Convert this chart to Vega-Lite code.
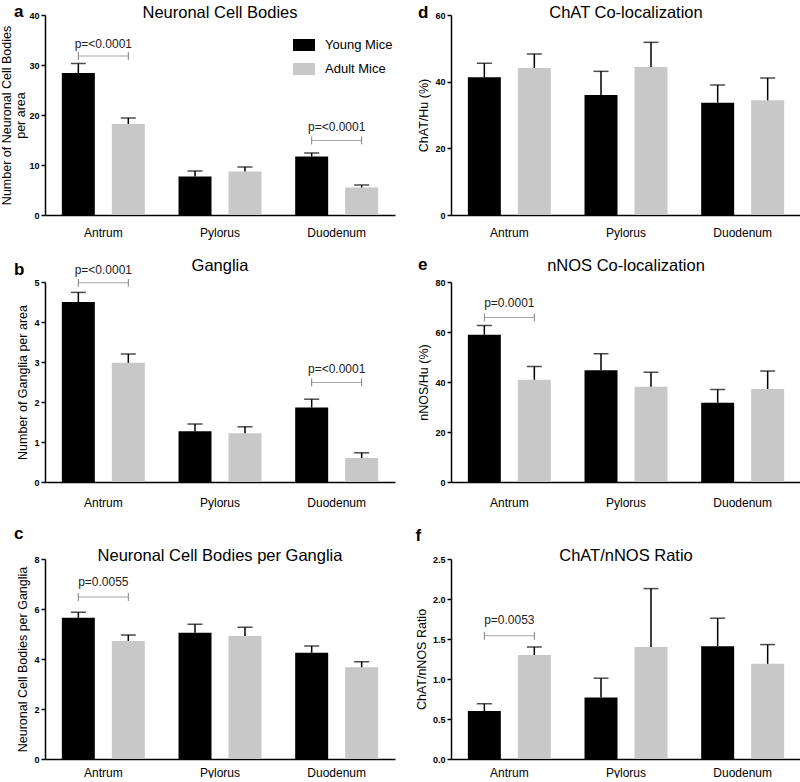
{
  "$schema": "https://vega.github.io/schema/vega-lite/v6.json",
  "padding": {"left": 0, "top": 2, "right": 2, "bottom": 0},
  "datasets": {
    "bars": [
      {"panel": "a", "region": "Antrum", "group": "Young Mice", "mean": 28.4, "hi": 30.3},
      {"panel": "a", "region": "Antrum", "group": "Adult Mice", "mean": 18.2, "hi": 19.4},
      {"panel": "a", "region": "Pylorus", "group": "Young Mice", "mean": 7.7, "hi": 8.8},
      {"panel": "a", "region": "Pylorus", "group": "Adult Mice", "mean": 8.7, "hi": 9.6},
      {"panel": "a", "region": "Duodenum", "group": "Young Mice", "mean": 11.7, "hi": 12.4},
      {"panel": "a", "region": "Duodenum", "group": "Adult Mice", "mean": 5.5, "hi": 6.0},
      {"panel": "d", "region": "Antrum", "group": "Young Mice", "mean": 41.3, "hi": 45.5},
      {"panel": "d", "region": "Antrum", "group": "Adult Mice", "mean": 44.1, "hi": 48.3},
      {"panel": "d", "region": "Pylorus", "group": "Young Mice", "mean": 36.0, "hi": 43.1},
      {"panel": "d", "region": "Pylorus", "group": "Adult Mice", "mean": 44.4, "hi": 51.8},
      {"panel": "d", "region": "Duodenum", "group": "Young Mice", "mean": 33.7, "hi": 39.0},
      {"panel": "d", "region": "Duodenum", "group": "Adult Mice", "mean": 34.4, "hi": 41.1},
      {"panel": "b", "region": "Antrum", "group": "Young Mice", "mean": 4.50, "hi": 4.74},
      {"panel": "b", "region": "Antrum", "group": "Adult Mice", "mean": 2.98, "hi": 3.20},
      {"panel": "b", "region": "Pylorus", "group": "Young Mice", "mean": 1.27, "hi": 1.45},
      {"panel": "b", "region": "Pylorus", "group": "Adult Mice", "mean": 1.22, "hi": 1.38},
      {"panel": "b", "region": "Duodenum", "group": "Young Mice", "mean": 1.86, "hi": 2.07},
      {"panel": "b", "region": "Duodenum", "group": "Adult Mice", "mean": 0.60, "hi": 0.73},
      {"panel": "e", "region": "Antrum", "group": "Young Mice", "mean": 58.9, "hi": 62.6},
      {"panel": "e", "region": "Antrum", "group": "Adult Mice", "mean": 40.9, "hi": 46.2},
      {"panel": "e", "region": "Pylorus", "group": "Young Mice", "mean": 44.7, "hi": 51.3},
      {"panel": "e", "region": "Pylorus", "group": "Adult Mice", "mean": 38.1, "hi": 43.9},
      {"panel": "e", "region": "Duodenum", "group": "Young Mice", "mean": 31.7, "hi": 37.0},
      {"panel": "e", "region": "Duodenum", "group": "Adult Mice", "mean": 37.2, "hi": 44.4},
      {"panel": "c", "region": "Antrum", "group": "Young Mice", "mean": 5.65, "hi": 5.87},
      {"panel": "c", "region": "Antrum", "group": "Adult Mice", "mean": 4.72, "hi": 4.96},
      {"panel": "c", "region": "Pylorus", "group": "Young Mice", "mean": 5.05, "hi": 5.39},
      {"panel": "c", "region": "Pylorus", "group": "Adult Mice", "mean": 4.92, "hi": 5.27},
      {"panel": "c", "region": "Duodenum", "group": "Young Mice", "mean": 4.25, "hi": 4.52},
      {"panel": "c", "region": "Duodenum", "group": "Adult Mice", "mean": 3.67, "hi": 3.89},
      {"panel": "f", "region": "Antrum", "group": "Young Mice", "mean": 0.60, "hi": 0.69},
      {"panel": "f", "region": "Antrum", "group": "Adult Mice", "mean": 1.30, "hi": 1.40},
      {"panel": "f", "region": "Pylorus", "group": "Young Mice", "mean": 0.77, "hi": 1.01},
      {"panel": "f", "region": "Pylorus", "group": "Adult Mice", "mean": 1.40, "hi": 2.13},
      {"panel": "f", "region": "Duodenum", "group": "Young Mice", "mean": 1.41, "hi": 1.76},
      {"panel": "f", "region": "Duodenum", "group": "Adult Mice", "mean": 1.19, "hi": 1.43}
    ],
    "brackets": [
      {"panel": "a", "region": "Antrum", "group": "Young Mice", "y": 31.8, "ty": 34.3, "label": "p=<0.0001"},
      {"panel": "a", "region": "Antrum", "group": "Adult Mice", "y": 31.8, "ty": 34.3, "label": "p=<0.0001"},
      {"panel": "a", "region": "Duodenum", "group": "Young Mice", "y": 14.9, "ty": 17.6, "label": "p=<0.0001"},
      {"panel": "a", "region": "Duodenum", "group": "Adult Mice", "y": 14.9, "ty": 17.6, "label": "p=<0.0001"},
      {"panel": "b", "region": "Antrum", "group": "Young Mice", "y": 4.98, "ty": 5.29, "label": "p=<0.0001"},
      {"panel": "b", "region": "Antrum", "group": "Adult Mice", "y": 4.98, "ty": 5.29, "label": "p=<0.0001"},
      {"panel": "b", "region": "Duodenum", "group": "Young Mice", "y": 2.49, "ty": 2.83, "label": "p=<0.0001"},
      {"panel": "b", "region": "Duodenum", "group": "Adult Mice", "y": 2.49, "ty": 2.83, "label": "p=<0.0001"},
      {"panel": "e", "region": "Antrum", "group": "Young Mice", "y": 65.8, "ty": 71.5, "label": "p=0.0001"},
      {"panel": "e", "region": "Antrum", "group": "Adult Mice", "y": 65.8, "ty": 71.5, "label": "p=0.0001"},
      {"panel": "c", "region": "Antrum", "group": "Young Mice", "y": 6.48, "ty": 7.07, "label": "p=0.0055"},
      {"panel": "c", "region": "Antrum", "group": "Adult Mice", "y": 6.48, "ty": 7.07, "label": "p=0.0055"},
      {"panel": "f", "region": "Antrum", "group": "Young Mice", "y": 1.54, "ty": 1.74, "label": "p=0.0053"},
      {"panel": "f", "region": "Antrum", "group": "Adult Mice", "y": 1.54, "ty": 1.74, "label": "p=0.0053"}
    ]
  },
  "columns": 2,
  "align": "each",
  "spacing": {"row": 16, "column": 20},
  "resolve": {"scale": {"x": "independent", "y": "independent", "color": "independent"}, "legend": {"color": "independent"}},
  "concat": [
    {
      "title": {"text": "a", "anchor": "start", "frame": "bounds", "fontSize": 17, "fontWeight": "bold", "offset": -16, "dx": 13},
      "resolve": {"scale": {"color": "independent"}, "legend": {"color": "independent"}},
      "vconcat": [{
        "width": 350, "height": 200,
        "title": {"text": "Neuronal Cell Bodies", "offset": -10},
        "layer": [
          {"data": {"name": "bars"}, "transform": [{"filter": "datum.panel === 'a'"}],
           "mark": {"type": "bar"},
           "encoding": {
             "x": {"field": "region", "type": "nominal", "sort": ["Antrum", "Pylorus", "Duodenum"], "scale": {"paddingInner": 0, "paddingOuter": 0}, "title": null, "axis": {"labelPadding": 12.5}},
             "xOffset": {"field": "group", "type": "nominal", "sort": ["Young Mice", "Adult Mice"], "scale": {"paddingInner": 0.34, "paddingOuter": 0.337}},
             "y": {"field": "mean", "type": "quantitative", "stack": null, "scale": {"domain": [0, 40], "nice": false}, "axis": {"values": [0, 10, 20, 30, 40], "tickCount": 20, "format": "d", "title": ["Number of Neuronal Cell Bodies", "per area"], "titlePadding": 1, "titleLineHeight": 14}},
             "color": {"field": "group", "type": "nominal", "scale": {"domain": ["Young Mice", "Adult Mice"], "range": ["#000000", "#c8c8c8"]},
               "legend": {"orient": "none", "legendX": 248, "legendY": 19, "title": null, "padding": 0, "symbolType": "M-1,-0.545H1V0.545H-1Z", "symbolSize": 484, "symbolStrokeWidth": 0, "labelFontSize": 13, "labelOffset": 10, "rowPadding": 6, "labelColor": "black"}}
           }},
          {"data": {"name": "bars"}, "transform": [{"filter": "datum.panel === 'a'"}],
           "mark": {"type": "rule", "color": "black", "strokeWidth": 1.5},
           "encoding": {
             "x": {"field": "region", "type": "nominal", "sort": ["Antrum", "Pylorus", "Duodenum"]},
             "xOffset": {"field": "group", "type": "nominal", "sort": ["Young Mice", "Adult Mice"]},
             "y": {"field": "mean", "type": "quantitative"}, "y2": {"field": "hi"}
           }},
          {"data": {"name": "bars"}, "transform": [{"filter": "datum.panel === 'a'"}],
           "mark": {"type": "tick", "color": "black", "size": 15, "thickness": 1.5},
           "encoding": {
             "x": {"field": "region", "type": "nominal", "sort": ["Antrum", "Pylorus", "Duodenum"]},
             "xOffset": {"field": "group", "type": "nominal", "sort": ["Young Mice", "Adult Mice"]},
             "y": {"field": "hi", "type": "quantitative"}
           }},
          {"data": {"name": "brackets"}, "transform": [{"filter": "datum.panel === 'a' && datum.group === 'Young Mice'"}],
           "mark": {"type": "tick", "color": "#808080", "size": 50, "thickness": 1},
           "encoding": {
             "x": {"field": "region", "type": "nominal", "sort": ["Antrum", "Pylorus", "Duodenum"]},
             "y": {"field": "y", "type": "quantitative"}
           }},
          {"data": {"name": "brackets"}, "transform": [{"filter": "datum.panel === 'a'"}],
           "mark": {"type": "rule", "color": "#808080", "strokeWidth": 1, "yOffset": -4, "y2Offset": 4},
           "encoding": {
             "x": {"field": "region", "type": "nominal", "sort": ["Antrum", "Pylorus", "Duodenum"]},
             "xOffset": {"field": "group", "type": "nominal", "sort": ["Young Mice", "Adult Mice"]},
             "y": {"field": "y", "type": "quantitative"}, "y2": {"field": "y"}
           }},
          {"data": {"name": "brackets"}, "transform": [{"filter": "datum.panel === 'a' && datum.group === 'Young Mice'"}],
           "mark": {"type": "text", "fontSize": 12, "color": "#222222"},
           "encoding": {
             "x": {"field": "region", "type": "nominal", "sort": ["Antrum", "Pylorus", "Duodenum"]},
             "y": {"field": "ty", "type": "quantitative"},
             "text": {"field": "label"}
           }}
        ]
      }]
    },
    {
      "title": {"text": "d", "anchor": "start", "frame": "bounds", "fontSize": 17, "fontWeight": "bold", "offset": -17, "dx": 0},
      "vconcat": [{
        "width": 350, "height": 200,
        "title": {"text": "ChAT Co-localization", "offset": -10},
        "layer": [
          {"data": {"name": "bars"}, "transform": [{"filter": "datum.panel === 'd'"}],
           "mark": {"type": "bar"},
           "encoding": {
             "x": {"field": "region", "type": "nominal", "sort": ["Antrum", "Pylorus", "Duodenum"], "scale": {"paddingInner": 0, "paddingOuter": 0}, "title": null, "axis": {"labelPadding": 12.5}},
             "xOffset": {"field": "group", "type": "nominal", "sort": ["Young Mice", "Adult Mice"], "scale": {"paddingInner": 0.34, "paddingOuter": 0.337}},
             "y": {"field": "mean", "type": "quantitative", "stack": null, "scale": {"domain": [0, 60], "nice": false}, "axis": {"values": [0, 20, 40, 60], "tickCount": 20, "format": "d", "title": "ChAT/Hu (%)"}},
             "color": {"field": "group", "type": "nominal", "scale": {"domain": ["Young Mice", "Adult Mice"], "range": ["#000000", "#c8c8c8"]}, "legend": null}
           }},
          {"data": {"name": "bars"}, "transform": [{"filter": "datum.panel === 'd'"}],
           "mark": {"type": "rule", "color": "black", "strokeWidth": 1.5},
           "encoding": {
             "x": {"field": "region", "type": "nominal", "sort": ["Antrum", "Pylorus", "Duodenum"]},
             "xOffset": {"field": "group", "type": "nominal", "sort": ["Young Mice", "Adult Mice"]},
             "y": {"field": "mean", "type": "quantitative"}, "y2": {"field": "hi"}
           }},
          {"data": {"name": "bars"}, "transform": [{"filter": "datum.panel === 'd'"}],
           "mark": {"type": "tick", "color": "black", "size": 15, "thickness": 1.5},
           "encoding": {
             "x": {"field": "region", "type": "nominal", "sort": ["Antrum", "Pylorus", "Duodenum"]},
             "xOffset": {"field": "group", "type": "nominal", "sort": ["Young Mice", "Adult Mice"]},
             "y": {"field": "hi", "type": "quantitative"}
           }}
        ]
      }]
    },
    {
      "title": {"text": "b", "anchor": "start", "frame": "bounds", "fontSize": 17, "fontWeight": "bold", "offset": -21, "dx": -3},
      "vconcat": [{
        "width": 350, "height": 200,
        "title": {"text": "Ganglia", "offset": -10},
        "layer": [
          {"data": {"name": "bars"}, "transform": [{"filter": "datum.panel === 'b'"}],
           "mark": {"type": "bar"},
           "encoding": {
             "x": {"field": "region", "type": "nominal", "sort": ["Antrum", "Pylorus", "Duodenum"], "scale": {"paddingInner": 0, "paddingOuter": 0}, "title": null, "axis": {"labelPadding": 15}},
             "xOffset": {"field": "group", "type": "nominal", "sort": ["Young Mice", "Adult Mice"], "scale": {"paddingInner": 0.34, "paddingOuter": 0.337}},
             "y": {"field": "mean", "type": "quantitative", "stack": null, "scale": {"domain": [0, 5], "nice": false}, "axis": {"values": [0, 1, 2, 3, 4, 5], "tickCount": 20, "format": "d", "title": "Number of Ganglia per area"}},
             "color": {"field": "group", "type": "nominal", "scale": {"domain": ["Young Mice", "Adult Mice"], "range": ["#000000", "#c8c8c8"]}, "legend": null}
           }},
          {"data": {"name": "bars"}, "transform": [{"filter": "datum.panel === 'b'"}],
           "mark": {"type": "rule", "color": "black", "strokeWidth": 1.5},
           "encoding": {
             "x": {"field": "region", "type": "nominal", "sort": ["Antrum", "Pylorus", "Duodenum"]},
             "xOffset": {"field": "group", "type": "nominal", "sort": ["Young Mice", "Adult Mice"]},
             "y": {"field": "mean", "type": "quantitative"}, "y2": {"field": "hi"}
           }},
          {"data": {"name": "bars"}, "transform": [{"filter": "datum.panel === 'b'"}],
           "mark": {"type": "tick", "color": "black", "size": 15, "thickness": 1.5},
           "encoding": {
             "x": {"field": "region", "type": "nominal", "sort": ["Antrum", "Pylorus", "Duodenum"]},
             "xOffset": {"field": "group", "type": "nominal", "sort": ["Young Mice", "Adult Mice"]},
             "y": {"field": "hi", "type": "quantitative"}
           }},
          {"data": {"name": "brackets"}, "transform": [{"filter": "datum.panel === 'b' && datum.group === 'Young Mice'"}],
           "mark": {"type": "tick", "color": "#808080", "size": 50, "thickness": 1},
           "encoding": {
             "x": {"field": "region", "type": "nominal", "sort": ["Antrum", "Pylorus", "Duodenum"]},
             "y": {"field": "y", "type": "quantitative"}
           }},
          {"data": {"name": "brackets"}, "transform": [{"filter": "datum.panel === 'b'"}],
           "mark": {"type": "rule", "color": "#808080", "strokeWidth": 1, "yOffset": -4, "y2Offset": 4},
           "encoding": {
             "x": {"field": "region", "type": "nominal", "sort": ["Antrum", "Pylorus", "Duodenum"]},
             "xOffset": {"field": "group", "type": "nominal", "sort": ["Young Mice", "Adult Mice"]},
             "y": {"field": "y", "type": "quantitative"}, "y2": {"field": "y"}
           }},
          {"data": {"name": "brackets"}, "transform": [{"filter": "datum.panel === 'b' && datum.group === 'Young Mice'"}],
           "mark": {"type": "text", "fontSize": 12, "color": "#222222"},
           "encoding": {
             "x": {"field": "region", "type": "nominal", "sort": ["Antrum", "Pylorus", "Duodenum"]},
             "y": {"field": "ty", "type": "quantitative"},
             "text": {"field": "label"}
           }}
        ]
      }]
    },
    {
      "title": {"text": "e", "anchor": "start", "frame": "bounds", "fontSize": 17, "fontWeight": "bold", "offset": -16, "dx": 0},
      "vconcat": [{
        "width": 350, "height": 200,
        "title": {"text": "nNOS Co-localization", "offset": 4},
        "layer": [
          {"data": {"name": "bars"}, "transform": [{"filter": "datum.panel === 'e'"}],
           "mark": {"type": "bar"},
           "encoding": {
             "x": {"field": "region", "type": "nominal", "sort": ["Antrum", "Pylorus", "Duodenum"], "scale": {"paddingInner": 0, "paddingOuter": 0}, "title": null, "axis": {"labelPadding": 15}},
             "xOffset": {"field": "group", "type": "nominal", "sort": ["Young Mice", "Adult Mice"], "scale": {"paddingInner": 0.34, "paddingOuter": 0.337}},
             "y": {"field": "mean", "type": "quantitative", "stack": null, "scale": {"domain": [0, 80], "nice": false}, "axis": {"values": [0, 20, 40, 60, 80], "tickCount": 20, "format": "d", "title": "nNOS/Hu (%)"}},
             "color": {"field": "group", "type": "nominal", "scale": {"domain": ["Young Mice", "Adult Mice"], "range": ["#000000", "#c8c8c8"]}, "legend": null}
           }},
          {"data": {"name": "bars"}, "transform": [{"filter": "datum.panel === 'e'"}],
           "mark": {"type": "rule", "color": "black", "strokeWidth": 1.5},
           "encoding": {
             "x": {"field": "region", "type": "nominal", "sort": ["Antrum", "Pylorus", "Duodenum"]},
             "xOffset": {"field": "group", "type": "nominal", "sort": ["Young Mice", "Adult Mice"]},
             "y": {"field": "mean", "type": "quantitative"}, "y2": {"field": "hi"}
           }},
          {"data": {"name": "bars"}, "transform": [{"filter": "datum.panel === 'e'"}],
           "mark": {"type": "tick", "color": "black", "size": 15, "thickness": 1.5},
           "encoding": {
             "x": {"field": "region", "type": "nominal", "sort": ["Antrum", "Pylorus", "Duodenum"]},
             "xOffset": {"field": "group", "type": "nominal", "sort": ["Young Mice", "Adult Mice"]},
             "y": {"field": "hi", "type": "quantitative"}
           }},
          {"data": {"name": "brackets"}, "transform": [{"filter": "datum.panel === 'e' && datum.group === 'Young Mice'"}],
           "mark": {"type": "tick", "color": "#808080", "size": 50, "thickness": 1},
           "encoding": {
             "x": {"field": "region", "type": "nominal", "sort": ["Antrum", "Pylorus", "Duodenum"]},
             "y": {"field": "y", "type": "quantitative"}
           }},
          {"data": {"name": "brackets"}, "transform": [{"filter": "datum.panel === 'e'"}],
           "mark": {"type": "rule", "color": "#808080", "strokeWidth": 1, "yOffset": -4, "y2Offset": 4},
           "encoding": {
             "x": {"field": "region", "type": "nominal", "sort": ["Antrum", "Pylorus", "Duodenum"]},
             "xOffset": {"field": "group", "type": "nominal", "sort": ["Young Mice", "Adult Mice"]},
             "y": {"field": "y", "type": "quantitative"}, "y2": {"field": "y"}
           }},
          {"data": {"name": "brackets"}, "transform": [{"filter": "datum.panel === 'e' && datum.group === 'Young Mice'"}],
           "mark": {"type": "text", "fontSize": 12, "color": "#222222"},
           "encoding": {
             "x": {"field": "region", "type": "nominal", "sort": ["Antrum", "Pylorus", "Duodenum"]},
             "y": {"field": "ty", "type": "quantitative"},
             "text": {"field": "label"}
           }}
        ]
      }]
    },
    {
      "title": {"text": "c", "anchor": "start", "frame": "bounds", "fontSize": 17, "fontWeight": "bold", "offset": 5, "dx": -3},
      "vconcat": [{
        "width": 350, "height": 200,
        "title": {"text": "Neuronal Cell Bodies per Ganglia", "offset": -9},
        "layer": [
          {"data": {"name": "bars"}, "transform": [{"filter": "datum.panel === 'c'"}],
           "mark": {"type": "bar"},
           "encoding": {
             "x": {"field": "region", "type": "nominal", "sort": ["Antrum", "Pylorus", "Duodenum"], "scale": {"paddingInner": 0, "paddingOuter": 0}, "title": null, "axis": {"labelPadding": 8}},
             "xOffset": {"field": "group", "type": "nominal", "sort": ["Young Mice", "Adult Mice"], "scale": {"paddingInner": 0.34, "paddingOuter": 0.337}},
             "y": {"field": "mean", "type": "quantitative", "stack": null, "scale": {"domain": [0, 8], "nice": false}, "axis": {"values": [0, 2, 4, 6, 8], "tickCount": 20, "format": "d", "title": "Neuronal Cell Bodies per Ganglia"}},
             "color": {"field": "group", "type": "nominal", "scale": {"domain": ["Young Mice", "Adult Mice"], "range": ["#000000", "#c8c8c8"]}, "legend": null}
           }},
          {"data": {"name": "bars"}, "transform": [{"filter": "datum.panel === 'c'"}],
           "mark": {"type": "rule", "color": "black", "strokeWidth": 1.5},
           "encoding": {
             "x": {"field": "region", "type": "nominal", "sort": ["Antrum", "Pylorus", "Duodenum"]},
             "xOffset": {"field": "group", "type": "nominal", "sort": ["Young Mice", "Adult Mice"]},
             "y": {"field": "mean", "type": "quantitative"}, "y2": {"field": "hi"}
           }},
          {"data": {"name": "bars"}, "transform": [{"filter": "datum.panel === 'c'"}],
           "mark": {"type": "tick", "color": "black", "size": 15, "thickness": 1.5},
           "encoding": {
             "x": {"field": "region", "type": "nominal", "sort": ["Antrum", "Pylorus", "Duodenum"]},
             "xOffset": {"field": "group", "type": "nominal", "sort": ["Young Mice", "Adult Mice"]},
             "y": {"field": "hi", "type": "quantitative"}
           }},
          {"data": {"name": "brackets"}, "transform": [{"filter": "datum.panel === 'c' && datum.group === 'Young Mice'"}],
           "mark": {"type": "tick", "color": "#808080", "size": 50, "thickness": 1},
           "encoding": {
             "x": {"field": "region", "type": "nominal", "sort": ["Antrum", "Pylorus", "Duodenum"]},
             "y": {"field": "y", "type": "quantitative"}
           }},
          {"data": {"name": "brackets"}, "transform": [{"filter": "datum.panel === 'c'"}],
           "mark": {"type": "rule", "color": "#808080", "strokeWidth": 1, "yOffset": -4, "y2Offset": 4},
           "encoding": {
             "x": {"field": "region", "type": "nominal", "sort": ["Antrum", "Pylorus", "Duodenum"]},
             "xOffset": {"field": "group", "type": "nominal", "sort": ["Young Mice", "Adult Mice"]},
             "y": {"field": "y", "type": "quantitative"}, "y2": {"field": "y"}
           }},
          {"data": {"name": "brackets"}, "transform": [{"filter": "datum.panel === 'c' && datum.group === 'Young Mice'"}],
           "mark": {"type": "text", "fontSize": 12, "color": "#222222"},
           "encoding": {
             "x": {"field": "region", "type": "nominal", "sort": ["Antrum", "Pylorus", "Duodenum"]},
             "y": {"field": "ty", "type": "quantitative"},
             "text": {"field": "label"}
           }}
        ]
      }]
    },
    {
      "title": {"text": "f", "anchor": "start", "frame": "bounds", "fontSize": 17, "fontWeight": "bold", "offset": 3, "dx": 0},
      "vconcat": [{
        "width": 350, "height": 200,
        "title": {"text": "ChAT/nNOS Ratio", "offset": -9},
        "layer": [
          {"data": {"name": "bars"}, "transform": [{"filter": "datum.panel === 'f'"}],
           "mark": {"type": "bar"},
           "encoding": {
             "x": {"field": "region", "type": "nominal", "sort": ["Antrum", "Pylorus", "Duodenum"], "scale": {"paddingInner": 0, "paddingOuter": 0}, "title": null, "axis": {"labelPadding": 8}},
             "xOffset": {"field": "group", "type": "nominal", "sort": ["Young Mice", "Adult Mice"], "scale": {"paddingInner": 0.34, "paddingOuter": 0.337}},
             "y": {"field": "mean", "type": "quantitative", "stack": null, "scale": {"domain": [0, 2.5], "nice": false}, "axis": {"values": [0, 0.5, 1, 1.5, 2, 2.5], "tickCount": 20, "format": ".1f", "title": "ChAT/nNOS Ratio"}},
             "color": {"field": "group", "type": "nominal", "scale": {"domain": ["Young Mice", "Adult Mice"], "range": ["#000000", "#c8c8c8"]}, "legend": null}
           }},
          {"data": {"name": "bars"}, "transform": [{"filter": "datum.panel === 'f'"}],
           "mark": {"type": "rule", "color": "black", "strokeWidth": 1.5},
           "encoding": {
             "x": {"field": "region", "type": "nominal", "sort": ["Antrum", "Pylorus", "Duodenum"]},
             "xOffset": {"field": "group", "type": "nominal", "sort": ["Young Mice", "Adult Mice"]},
             "y": {"field": "mean", "type": "quantitative"}, "y2": {"field": "hi"}
           }},
          {"data": {"name": "bars"}, "transform": [{"filter": "datum.panel === 'f'"}],
           "mark": {"type": "tick", "color": "black", "size": 15, "thickness": 1.5},
           "encoding": {
             "x": {"field": "region", "type": "nominal", "sort": ["Antrum", "Pylorus", "Duodenum"]},
             "xOffset": {"field": "group", "type": "nominal", "sort": ["Young Mice", "Adult Mice"]},
             "y": {"field": "hi", "type": "quantitative"}
           }},
          {"data": {"name": "brackets"}, "transform": [{"filter": "datum.panel === 'f' && datum.group === 'Young Mice'"}],
           "mark": {"type": "tick", "color": "#808080", "size": 50, "thickness": 1},
           "encoding": {
             "x": {"field": "region", "type": "nominal", "sort": ["Antrum", "Pylorus", "Duodenum"]},
             "y": {"field": "y", "type": "quantitative"}
           }},
          {"data": {"name": "brackets"}, "transform": [{"filter": "datum.panel === 'f'"}],
           "mark": {"type": "rule", "color": "#808080", "strokeWidth": 1, "yOffset": -4, "y2Offset": 4},
           "encoding": {
             "x": {"field": "region", "type": "nominal", "sort": ["Antrum", "Pylorus", "Duodenum"]},
             "xOffset": {"field": "group", "type": "nominal", "sort": ["Young Mice", "Adult Mice"]},
             "y": {"field": "y", "type": "quantitative"}, "y2": {"field": "y"}
           }},
          {"data": {"name": "brackets"}, "transform": [{"filter": "datum.panel === 'f' && datum.group === 'Young Mice'"}],
           "mark": {"type": "text", "fontSize": 12, "color": "#222222"},
           "encoding": {
             "x": {"field": "region", "type": "nominal", "sort": ["Antrum", "Pylorus", "Duodenum"]},
             "y": {"field": "ty", "type": "quantitative"},
             "text": {"field": "label"}
           }}
        ]
      }]
    }
  ],
  "config": {
    "font": "Liberation Sans",
    "view": {"stroke": null},
    "title": {"fontSize": 16.5, "fontWeight": "normal", "color": "black"},
    "axis": {"grid": false, "domainColor": "black", "domainWidth": 1.5, "tickColor": "black", "tickWidth": 1.5, "labelColor": "black", "titleColor": "black", "titleFontWeight": "normal"},
    "axisX": {"ticks": false, "labelFontSize": 12, "labelPadding": 14, "labelAngle": 0, "title": null},
    "axisY": {"tickSize": 4, "labelFontSize": 9, "labelFontWeight": "bold", "labelPadding": 2, "labelOverlap": false, "titleFontSize": 12.5, "titlePadding": 4}
  }
}
